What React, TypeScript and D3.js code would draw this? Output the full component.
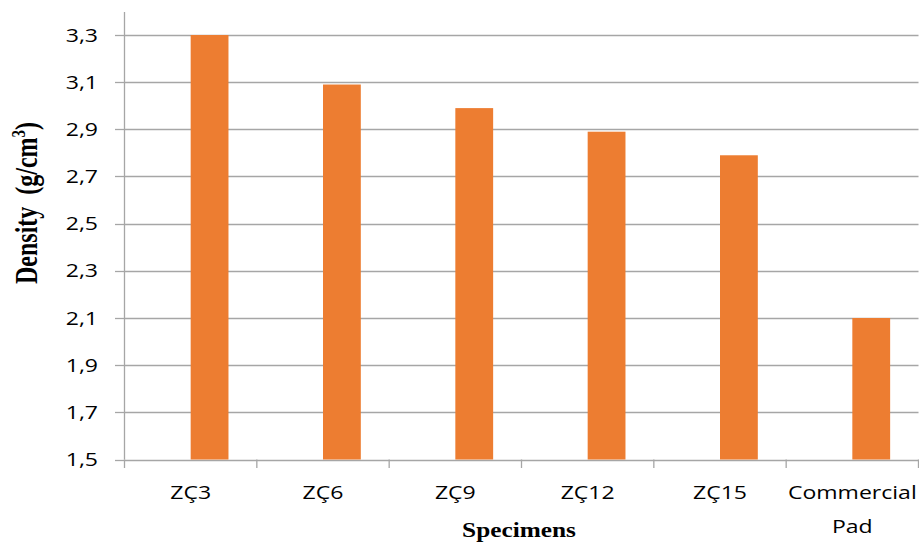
import React from "react";
import * as d3 from "d3";

const categories: string[][] = [["ZÇ3"], ["ZÇ6"], ["ZÇ9"], ["ZÇ12"], ["ZÇ15"], ["Commercial", "Pad"]];
const densityValues: number[] = [3.3, 3.09, 2.99, 2.89, 2.79, 2.1];
const yTicks: number[] = [1.5, 1.7, 1.9, 2.1, 2.3, 2.5, 2.7, 2.9, 3.1, 3.3];
const yTitle = "Density  (g/cm";
const xTitle = "Specimens";

const W = 919;
const H = 542;
const left = 124.5;
const right = 918.5;
const top = 35;
const bottom = 459.5;

export default function App() {
  const keys = categories.map((c) => c.join(" "));
  const x = d3.scaleBand<string>().domain(keys).range([left, right]).padding(0);
  const y = d3.scaleLinear().domain([1.5, 3.3]).range([bottom, top]);
  const bw = x.bandwidth();
  const barW = bw / 3.5;
  const fmt = (v: number) => d3.format(".1f")(v).replace(".", ",");
  const sx = 1.28;
  const tickFont = "'Open Sans', 'Noto Sans', sans-serif";
  const grid = "#A6A6A6";

  return (
    <svg width={W} height={H} style={{ position: "absolute", left: 0, top: 0, background: "#fff" }}>
      {yTicks.map((t) => (
        <g key={t}>
          <line x1={left} x2={right} y1={Math.round(y(t)) + 0.5} y2={Math.round(y(t)) + 0.5} stroke={grid} strokeWidth={1.3} />
          <line x1={115} x2={left} y1={Math.round(y(t)) + 0.5} y2={Math.round(y(t)) + 0.5} stroke={grid} strokeWidth={1.3} />
          <text
            transform={`translate(98, ${y(t) + 6.5}) scale(${sx},1)`}
            textAnchor="end"
            fontFamily={tickFont}
            fontSize={18}
            fill="#000"
          >
            {fmt(t)}
          </text>
        </g>
      ))}
      <line x1={left} x2={left} y1={12} y2={bottom} stroke={grid} strokeWidth={1.3} />
      {keys.map((k) => (
        <line key={"t" + k} x1={x(k)!} x2={x(k)!} y1={bottom} y2={468} stroke={grid} strokeWidth={1.3} />
      ))}
      <line x1={right} x2={right} y1={bottom} y2={468} stroke={grid} strokeWidth={1.3} />
      {keys.map((k, i) => (
        <rect
          key={"b" + k}
          x={x(k)! + bw / 2}
          y={y(densityValues[i])}
          width={barW}
          height={bottom - y(densityValues[i])}
          fill="#ED7D31"
        />
      ))}
      {categories.map((lines, i) => {
        const cx = x(keys[i])! + bw / 2;
        return lines.map((ln, j) => (
          <text
            key={"c" + i + "-" + j}
            transform={`translate(${cx}, ${499 + j * 34}) scale(${sx},1)`}
            textAnchor="middle"
            fontFamily={tickFont}
            fontSize={18}
            fill="#000"
          >
            {ln}
          </text>
        ));
      })}
      <text
        transform={`translate(519, 537) scale(1.15,1)`}
        textAnchor="middle"
        fontFamily="'Liberation Serif', 'Times New Roman', serif"
        fontWeight="bold"
        fontSize={22}
        fill="#000"
      >
        {xTitle}
      </text>
      <text
        transform={`translate(37, 284) scale(1.3,1) rotate(-90)`}
        textAnchor="start"
        fontFamily="'Liberation Serif', 'Times New Roman', serif"
        fontWeight="bold"
        fontSize={24}
        fill="#000"
        style={{ whiteSpace: "pre" }}
      >
        {yTitle}
        <tspan dy={-9} fontSize={15}>3</tspan>
        <tspan dy={9}>)</tspan>
      </text>
    </svg>
  );
}
